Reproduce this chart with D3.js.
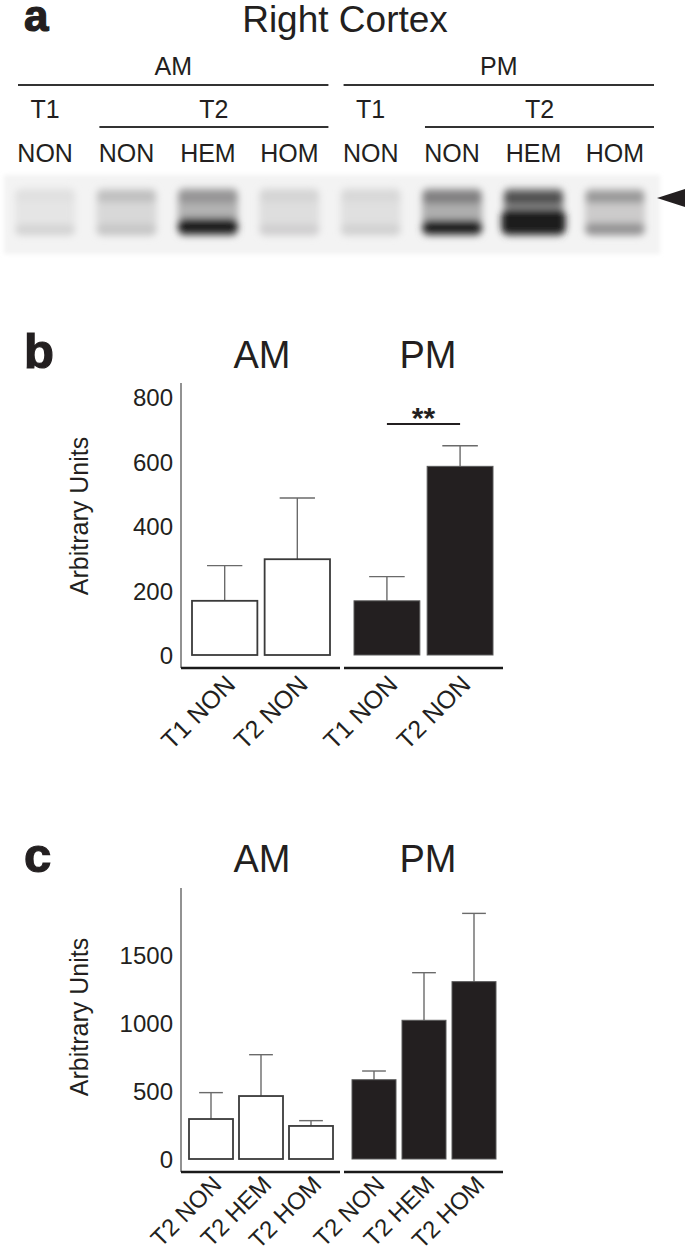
<!DOCTYPE html>
<html>
<head>
<meta charset="utf-8">
<script src="https://cdn.jsdelivr.net/npm/d3@7"></script>
<style>
  body { margin: 0; background: #fff; }
  text { font-family: "Liberation Sans", Arial, sans-serif; fill: #231f20; }
</style>
</head>
<body>
<svg id="fig" width="685" height="1256"></svg>
<script>
// ---- panel a: western blot lanes ----
const laneLabels = ["NON", "NON", "HEM", "HOM", "NON", "NON", "HEM", "HOM"];
const laneUpper = [0.06, 0.22, 0.42, 0.12, 0.10, 0.52, 0.75, 0.40];  // upper band darkness
const laneLower = [0.12, 0.18, 1.10, 0.14, 0.13, 1.00, 1.60, 0.42];  // lower band signal
const laneSmear = [0.04, 0.10, 0.28, 0.07, 0.06, 0.30, 0.40, 0.16];  // background smear

// ---- panel b ----
const bCats = ["T1 NON", "T2 NON"];
const bAM = [168, 297];
const bAMsem = [109, 190];
const bPM = [168, 585];
const bPMsem = [75, 64];
const bTicks = [0, 200, 400, 600, 800];

// ---- panel c ----
const cCats = ["T2 NON", "T2 HEM", "T2 HOM"];
const cAM = [294, 463, 243];
const cAMsem = [194, 304, 39];
const cPM = [583, 1020, 1304];
const cPMsem = [64, 350, 502];
const cTicks = [0, 500, 1000, 1500];

const svg = d3.select("#fig");
const ink = "#231f20";

//------------------------------------------------ panel a
function drawBlot() {
  const g = svg.append("g");
  g.append("text").text("a")
    .attr("x", 24).attr("y", 31)
    .attr("font-size", 44).attr("font-weight", "bold")
    .attr("stroke", ink).attr("stroke-width", 1.2);
  g.append("text").text("Right Cortex")
    .attr("x", 345).attr("y", 32)
    .attr("text-anchor", "middle").attr("font-size", 37);

  const lx = d3.scaleBand().domain(d3.range(laneLabels.length))
    .range([15, 645]).paddingInner(0.26);
  const bw = lx.bandwidth();

  // group headers
  const headers = [
    {label: "AM", from: 0, to: 3, y: 85, ty: 75},
    {label: "PM", from: 4, to: 7, y: 85, ty: 75},
    {label: "T2", from: 1, to: 3, y: 127, ty: 118},
    {label: "T2", from: 5, to: 7, y: 127, ty: 118}
  ];
  headers.forEach(h => {
    const x0 = lx(h.from) + 3, x1 = lx(h.to) + bw + 9;
    g.append("line").attr("x1", x0).attr("x2", x1)
      .attr("y1", h.y).attr("y2", h.y)
      .attr("stroke", "#333").attr("stroke-width", 2);
    g.append("text").text(h.label)
      .attr("x", (x0 + x1) / 2).attr("y", h.ty)
      .attr("text-anchor", "middle").attr("font-size", 25);
  });
  [0, 4].forEach(i => {
    g.append("text").text("T1")
      .attr("x", lx(i) + bw / 2).attr("y", 118)
      .attr("text-anchor", "middle").attr("font-size", 25);
  });
  g.selectAll("text.lane").data(laneLabels).join("text")
    .attr("class", "lane")
    .attr("x", (d, i) => lx(i) + bw / 2).attr("y", 162)
    .attr("text-anchor", "middle").attr("font-size", 25)
    .text(d => d);

  // blot image
  const defs = svg.append("defs");
  defs.append("filter").attr("id", "blur")
    .attr("x", "-30%").attr("y", "-60%").attr("width", "160%").attr("height", "220%")
    .append("feGaussianBlur").attr("stdDeviation", 3.8);
  defs.append("filter").attr("id", "soft")
    .append("feGaussianBlur").attr("stdDeviation", 2);

  const shade = d3.scaleLinear().domain([0, 1]).range(["#ededed", "#1c1a1b"]).clamp(true);
  const thick = d3.scaleLinear().domain([0, 1, 1.6]).range([10, 15, 26]);

  g.append("rect").attr("x", 4).attr("y", 175).attr("width", 656).attr("height", 79)
    .attr("fill", "#f3f3f3").attr("filter", "url(#soft)");

  const lanesG = g.append("g").attr("filter", "url(#blur)");
  laneLabels.forEach((d, i) => {
    const x = lx(i);
    lanesG.append("rect").attr("x", x).attr("y", 188).attr("width", bw).attr("height", 48)
      .attr("rx", 6).attr("fill", shade(laneSmear[i]));
    lanesG.append("rect").attr("x", x + 1).attr("y", 191).attr("width", bw - 2).attr("height", thick(laneUpper[i]))
      .attr("rx", 4).attr("fill", shade(laneUpper[i]));
    const t = thick(laneLower[i]);
    const w = bw + (laneLower[i] > 1.2 ? 4 : 0);
    lanesG.append("rect").attr("x", x + bw / 2 - w / 2).attr("y", 235 - t).attr("width", w).attr("height", t)
      .attr("rx", 7).attr("fill", shade(laneLower[i]));
  });

  // arrowhead
  g.append("path").attr("d", "M657,198 L685,189 L685,207 Z").attr("fill", ink);
}

//------------------------------------------------ bar panels
function drawPanel(o) {
  const g = svg.append("g");
  g.append("text").text(o.letter)
    .attr("x", 24).attr("y", o.titleY)
    .attr("font-size", 49).attr("font-weight", "bold")
    .attr("stroke", ink).attr("stroke-width", 1.2);

  const y = d3.scaleLinear().domain([0, o.ticks[o.ticks.length - 1]]).range(o.yRange);

  // y axis
  const ax = g.append("g").attr("transform", `translate(${o.axisX},0)`)
    .call(d3.axisLeft(y).tickValues(o.ticks).tickFormat(d3.format("d")).tickSize(0).tickPadding(8));
  ax.select(".domain").remove();
  ax.selectAll("text").attr("font-size", 24).attr("font-family", "Liberation Sans, Arial, sans-serif")
    .attr("fill", ink).attr("dy", "0.36em");
  g.append("line").attr("x1", o.axisX).attr("x2", o.axisX)
    .attr("y1", o.axisTop).attr("y2", o.axisBottom)
    .attr("stroke", "#777").attr("stroke-width", 1.6);

  g.append("text").text("Arbitrary Units")
    .attr("transform", `translate(88,${o.labelY}) rotate(-90)`)
    .attr("text-anchor", "middle").attr("font-size", 25);

  o.groups.forEach(grp => {
    const x = d3.scaleBand().domain(o.cats).range(grp.range).paddingInner(o.pad);
    const bw = x.bandwidth();
    const cap = bw * 0.27;

    g.append("text").text(grp.name)
      .attr("x", grp.titleX).attr("y", o.titleY)
      .attr("text-anchor", "middle").attr("font-size", 38);

    // error bars
    o.cats.forEach((c, i) => {
      const cx = x(c) + bw / 2;
      const top = y(grp.values[i] + grp.sem[i]);
      g.append("line").attr("x1", cx).attr("x2", cx)
        .attr("y1", y(grp.values[i])).attr("y2", top)
        .attr("stroke", "#6a6a6a").attr("stroke-width", 1.4);
      g.append("line").attr("x1", cx - cap).attr("x2", cx + cap)
        .attr("y1", top).attr("y2", top)
        .attr("stroke", "#6a6a6a").attr("stroke-width", 1.4);
    });

    g.selectAll(null).data(grp.values).join("rect")
      .attr("x", (d, i) => x(o.cats[i]))
      .attr("y", d => y(d))
      .attr("width", bw)
      .attr("height", d => y(0) - y(d))
      .attr("fill", grp.fill)
      .attr("stroke", grp.fill === "#fff" ? "#3a3a3a" : "#5a5a5a")
      .attr("stroke-width", grp.fill === "#fff" ? 1.8 : 1);

    // bottom axis segment
    g.append("line").attr("x1", grp.axis[0]).attr("x2", grp.axis[1])
      .attr("y1", o.axisBottom).attr("y2", o.axisBottom)
      .attr("stroke", "#1a1a1a").attr("stroke-width", 2.4);

    // rotated category labels
    o.cats.forEach(c => {
      const cx = x(c) + bw / 2;
      g.append("text").text(c)
        .attr("transform", `translate(${cx + 12},${o.axisBottom + o.labelDy}) rotate(-45)`)
        .attr("text-anchor", "end").attr("font-size", o.labelSize);
    });

    if (grp.sig) {
      const x0 = x(o.cats[0]) + bw / 2, x1 = x(o.cats[1]) + bw / 2;
      g.append("line").attr("x1", x0).attr("x2", x1)
        .attr("y1", grp.sig.y).attr("y2", grp.sig.y)
        .attr("stroke", ink).attr("stroke-width", 1.8);
      g.append("text").text(grp.sig.label)
        .attr("x", (x0 + x1) / 2).attr("y", grp.sig.y + 4)
        .attr("text-anchor", "middle").attr("font-size", 30).attr("font-weight", "bold");
    }
  });
}

drawBlot();

drawPanel({
  letter: "b", titleY: 368, cats: bCats, ticks: bTicks,
  yRange: [655, 397], axisX: 181, axisTop: 383, axisBottom: 668, labelY: 516,
  pad: 0.1, labelDy: 18, labelSize: 25,
  groups: [
    {name: "AM", titleX: 262, values: bAM, sem: bAMsem, fill: "#fff", range: [192, 330], axis: [181, 340]},
    {name: "PM", titleX: 428, values: bPM, sem: bPMsem, fill: ink, range: [354, 493], axis: [344, 503],
     sig: {y: 424, label: "**"}}
  ]
});

drawPanel({
  letter: "c", titleY: 872, cats: cCats, ticks: cTicks,
  yRange: [1159, 955], axisX: 181, axisTop: 888, axisBottom: 1172, labelY: 1017,
  pad: 0.12, labelDy: 14, labelSize: 24,
  groups: [
    {name: "AM", titleX: 262, values: cAM, sem: cAMsem, fill: "#fff", range: [189, 333], axis: [181, 340]},
    {name: "PM", titleX: 428, values: cPM, sem: cPMsem, fill: ink, range: [352, 496], axis: [344, 503]}
  ]
});
</script>
</body>
</html>
